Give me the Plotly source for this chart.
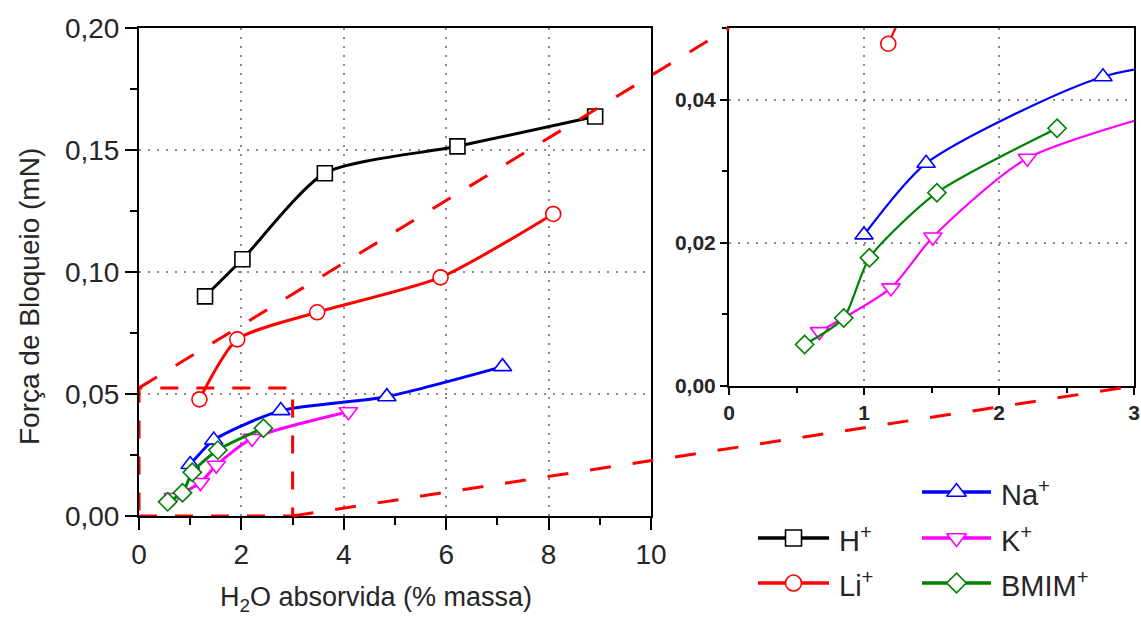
import plotly.graph_objects as go

W, H = 1141, 618
FONT = "Liberation Sans, Arial, sans-serif"
TXT = "#262626"

# Blocking force (mN) versus absorbed water (% mass) for each counter-ion
water_h = [1.29, 2.02, 3.63, 6.22, 8.91]
force_h = [0.0900, 0.1052, 0.1405, 0.1515, 0.1637]

water_li = [1.18, 1.92, 3.48, 5.89, 8.09]
force_li = [0.0478, 0.0724, 0.0835, 0.0978, 0.1238]

water_na = [1.00, 1.46, 2.77, 4.84, 7.10]
force_na = [0.0211, 0.0311, 0.0432, 0.0489, 0.0612]

water_k = [0.67, 1.20, 1.51, 2.21, 4.09]
force_k = [0.0076, 0.0137, 0.0208, 0.0318, 0.0427]

water_bmim = [0.56, 0.85, 1.04, 1.54, 2.43]
force_bmim = [0.0058, 0.0095, 0.0179, 0.0270, 0.0360]

series_names = ["H<sup>+</sup>", "Li<sup>+</sup>", "Na<sup>+</sup>", "K<sup>+</sup>", "BMIM<sup>+</sup>"]

series = [
    dict(name=series_names[0], x=water_h, y=force_h, color="#000000", symbol="square", size=15),
    dict(name=series_names[1], x=water_li, y=force_li, color="#ff0000", symbol="circle", size=15),
    dict(name=series_names[2], x=water_na, y=force_na, color="#0000ff", symbol="triangle-up", size=16),
    dict(name=series_names[3], x=water_k, y=force_k, color="#ff00ff", symbol="triangle-down", size=16),
    dict(name=series_names[4], x=water_bmim, y=force_bmim, color="#008000", symbol="diamond", size=14),
]

# axis ranges
main_xr, main_yr = [0, 10], [0, 0.20]
ins_xr, ins_yr = [0, 3], [0, 0.05]
zoom_box = [0, 3, 0, 0.0525]  # region of the main plot magnified in the inset

# subplot placement (pixels of the page)
main_px = dict(l=139, r=651, t=28, b=516)
ins_px = dict(l=729, r=1134, t=28, b=386)


def dom(p):
    return [p["l"] / W, p["r"] / W], [1 - p["b"] / H, 1 - p["t"] / H]


main_xd, main_yd = dom(main_px)
ins_xd, ins_yd = dom(ins_px)


def to_px(x, y, p, xr, yr):
    px = p["l"] + (x - xr[0]) / (xr[1] - xr[0]) * (p["r"] - p["l"])
    py = p["b"] - (y - yr[0]) / (yr[1] - yr[0]) * (p["b"] - p["t"])
    return px, py


fig = go.Figure()

# main plot curves
for s in series:
    fig.add_trace(go.Scatter(
        x=s["x"], y=s["y"], mode="lines+markers", xaxis="x", yaxis="y",
        line=dict(color=s["color"], width=3, shape="spline", smoothing=0.65),
        marker=dict(symbol=s["symbol"], size=s["size"], color="white",
                    line=dict(color=s["color"], width=1.6)),
        showlegend=False, hoverinfo="skip",
    ))

# inset curves (same data, magnified)
for s in series:
    fig.add_trace(go.Scatter(
        x=s["x"], y=s["y"], mode="lines+markers", xaxis="x2", yaxis="y2",
        line=dict(color=s["color"], width=2.2, shape="spline", smoothing=0.65),
        marker=dict(symbol=s["symbol"], size=s["size"], color="white",
                    line=dict(color=s["color"], width=1.6)),
        showlegend=False, hoverinfo="skip",
    ))

# connector lines between the zoom box and the inset
red_dash = dict(color="#ff0000", width=3, dash="21px,22px")
ux0, uy0 = to_px(zoom_box[0], zoom_box[3], main_px, main_xr, main_yr)
ux1, uy1 = to_px(ins_xr[0], ins_yr[1], ins_px, ins_xr, ins_yr)
lx0, ly0 = to_px(zoom_box[1], zoom_box[2], main_px, main_xr, main_yr)
lx1, ly1 = to_px(ins_xr[1], ins_yr[0], ins_px, ins_xr, ins_yr)
for xs, ys in [([ux0, ux1], [uy0, uy1]), ([lx0, lx1], [ly0, ly1])]:
    fig.add_trace(go.Scatter(
        x=xs, y=ys, mode="lines", xaxis="x3", yaxis="y3",
        line=red_dash, showlegend=False, hoverinfo="skip",
    ))

# hand-built legend: two columns
legend_slots = {  # name index -> (line x0, line x1, y) in page pixels
    0: (758, 829, 538),
    1: (758, 829, 583),
    2: (922, 991, 492),
    3: (922, 991, 538),
    4: (922, 991, 583),
}
annotations = []
for i, s in enumerate(series):
    x0, x1, yy = legend_slots[i]
    fig.add_trace(go.Scatter(
        x=[x0, x1], y=[yy, yy], mode="lines", xaxis="x3", yaxis="y3",
        line=dict(color=s["color"], width=3.5), showlegend=False, hoverinfo="skip",
    ))
    fig.add_trace(go.Scatter(
        x=[(x0 + x1) / 2], y=[yy], mode="markers", xaxis="x3", yaxis="y3",
        marker=dict(symbol=s["symbol"], size=s["size"] + 1, color="white",
                    line=dict(color=s["color"], width=1.6)),
        showlegend=False, hoverinfo="skip",
    ))
    annotations.append(dict(
        x=(x1 + 8) / W, y=1 - (yy + 1) / H, xref="paper", yref="paper",
        xanchor="left", yanchor="middle", showarrow=False, text=s["name"],
        font=dict(family=FONT, size=29, color=TXT),
    ))

annotations.append(dict(
    x=376 / W, y=1 - 599 / H, xref="paper", yref="paper", showarrow=False,
    text="H<sub>2</sub>O absorvida (% massa)", xanchor="center", yanchor="middle",
    font=dict(family=FONT, size=27, color=TXT),
))
annotations.append(dict(
    x=29 / W, y=1 - 297 / H, xref="paper", yref="paper", showarrow=False,
    text="Força de Bloqueio (mN)", textangle=-90, xanchor="center", yanchor="middle",
    font=dict(family=FONT, size=28, color=TXT),
))

grid = dict(showgrid=True, gridcolor="#8a8a8a", gridwidth=1.5, griddash="2px,7px")
ax_common = dict(showline=True, linecolor="black", linewidth=2, mirror=True,
                 ticks="outside", tickcolor="black", zeroline=False,
                 automargin=False, fixedrange=True)

fig.update_layout(
    width=W, height=H,
    margin=dict(l=0, r=0, t=0, b=0),
    paper_bgcolor="white", plot_bgcolor="rgba(0,0,0,0)",
    separators=",.",
    font=dict(family=FONT, color=TXT),
    xaxis=dict(domain=main_xd, range=main_xr, dtick=2, tick0=0, ticklen=12, tickwidth=2,
               tickfont=dict(size=28, color=TXT),
               minor=dict(dtick=1, ticks="outside", ticklen=7, tickwidth=2, tickcolor="black", showgrid=False),
               **grid, **ax_common),
    yaxis=dict(domain=main_yd, range=main_yr, dtick=0.05, tick0=0, tickformat=".2f",
               ticklen=12, tickwidth=2, tickfont=dict(size=28, color=TXT),
               minor=dict(dtick=0.025, ticks="outside", ticklen=7, tickwidth=2, tickcolor="black", showgrid=False),
               **grid, **ax_common),
    xaxis2=dict(domain=ins_xd, range=ins_xr, dtick=1, tick0=0, ticklen=7, tickwidth=2,
                tickfont=dict(size=21, color=TXT, weight="bold"), anchor="y2",
                minor=dict(dtick=0.5, ticks="outside", ticklen=5, tickwidth=2, tickcolor="black", showgrid=False),
                **grid, **ax_common),
    yaxis2=dict(domain=ins_yd, range=ins_yr, dtick=0.02, tick0=0, tickformat=".2f",
                ticklen=7, tickwidth=2, tickfont=dict(size=21, color=TXT, weight="bold"), anchor="x2",
                minor=dict(dtick=0.01, ticks="outside", ticklen=5, tickwidth=2, tickcolor="black", showgrid=False),
                **grid, **ax_common),
    xaxis3=dict(domain=[0, 1], range=[0, W], visible=False, fixedrange=True, anchor="y3"),
    yaxis3=dict(domain=[0, 1], range=[H, 0], visible=False, fixedrange=True, anchor="x3"),
    shapes=[dict(type="rect", xref="x", yref="y",
                 x0=zoom_box[0], x1=zoom_box[1], y0=zoom_box[2], y1=zoom_box[3],
                 line=dict(color="#ff0000", width=3, dash="18px,18px"), layer="above")],
    annotations=annotations,
    showlegend=False,
)

fig.write_html("out.html")
